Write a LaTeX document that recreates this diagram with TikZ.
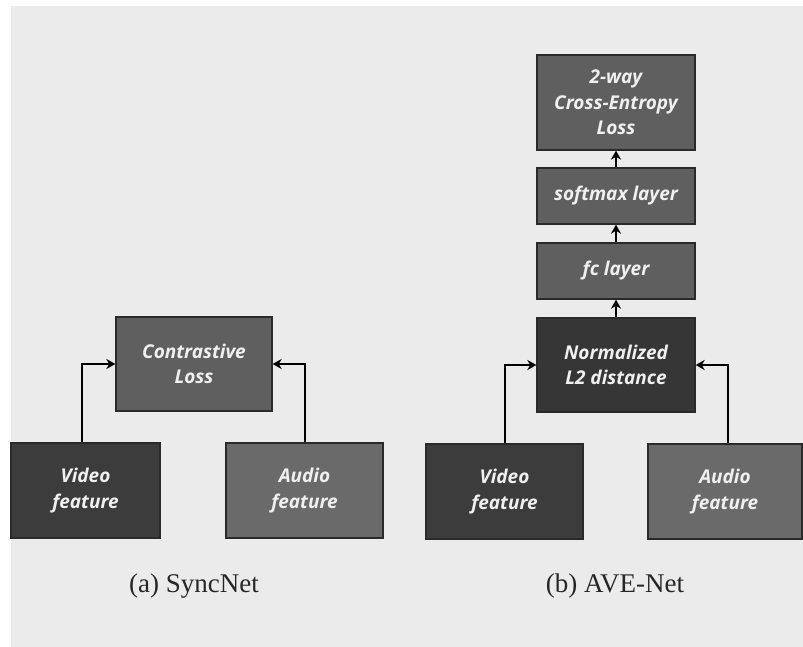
\documentclass[tikz,border=0pt]{standalone}
\usepackage{fontspec}
\setmainfont{Liberation Serif}
\newfontfamily\boxfnt{Open Sans}
\usetikzlibrary{arrows.meta}
\definecolor{bggray}{HTML}{EBEBEB}
\definecolor{midbox}{HTML}{5F5F5F}
\definecolor{darkbox}{HTML}{363636}
\definecolor{vidbox}{HTML}{3C3C3C}
\definecolor{audbox}{HTML}{6A6A6A}
\definecolor{edge}{HTML}{2A2A2A}
\definecolor{txt}{HTML}{F0F0F0}
\tikzset{
  blk/.style={draw=edge, line width=1.3pt, inner sep=0pt, align=center,
    text=txt, font=\boxfnt\bfseries\itshape\fontsize{19}{25.5}\selectfont},
  conn/.style={line width=2pt, -{Stealth[length=9pt,width=10pt]}},
  capt/.style={anchor=base, font=\fontsize{27}{30}\selectfont, text=black!85}
}
\begin{document}
\begin{tikzpicture}[x=1pt,y=-1pt]
\useasboundingbox (0,0) rectangle (803,647);
\fill[white] (0,0) rectangle (803,647);
\fill[bggray] (11,6) rectangle (803,647);
% (a) SyncNet
\node[blk, fill=midbox, minimum width=156pt, minimum height=94pt] (cl) at (194,364) {Contrastive\\Loss};
\node[blk, fill=vidbox, minimum width=149pt, minimum height=95pt] (vl) at (85.5,490.5) {Video\\feature};
\node[blk, fill=audbox, minimum width=157pt, minimum height=95pt] (al) at (304.5,490.5) {Audio\\feature};
\draw[conn] ([xshift=-3.5pt]vl.north) |- (cl.west);
\draw[conn] (al.north) |- (cl.east);
\node[capt] (capa) at (194,592) {(a) SyncNet};
% (b) AVE-Net
\node[blk, fill=midbox, minimum width=158pt, minimum height=95pt] (ce) at (616,102.5) {2-way\\Cross-Entropy\\Loss};
\node[blk, fill=midbox, minimum width=158pt, minimum height=56pt] (sm) at (616,196) {softmax layer};
\node[blk, fill=midbox, minimum width=158pt, minimum height=56pt] (fc) at (616,271) {fc layer};
\node[blk, fill=darkbox, minimum width=158pt, minimum height=94pt] (nd) at (616,365) {Normalized\\L2 distance};
\node[blk, fill=vidbox, minimum width=157pt, minimum height=95pt] (vr) at (504.5,491.5) {Video\\feature};
\node[blk, fill=audbox, minimum width=154pt, minimum height=95pt] (ar) at (725,491.5) {Audio\\feature};
\draw[conn] (sm.north) -- (ce.south);
\draw[conn] (fc.north) -- (sm.south);
\draw[conn] (nd.north) -- (fc.south);
\draw[conn] (vr.north) |- (nd.west);
\draw[conn] ([xshift=3pt]ar.north) |- (nd.east);
\node[capt] (capb) at (615,592) {(b) AVE-Net};
\end{tikzpicture}
\end{document}
